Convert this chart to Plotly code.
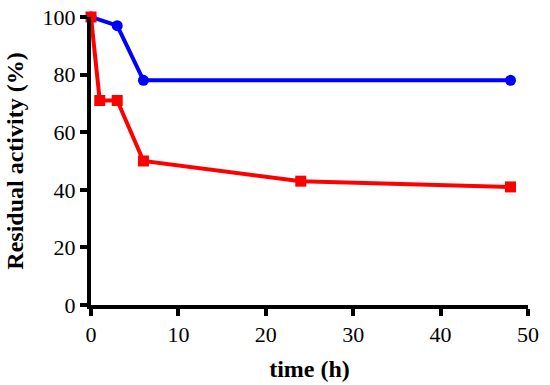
import plotly.graph_objects as go

blue_time = [0, 3, 6, 48]
blue_activity = [100, 97, 78, 78]
red_time = [0, 1, 3, 6, 24, 48]
red_activity = [100, 71, 71, 50, 43, 41]
x_ticks = [0, 10, 20, 30, 40, 50]
y_ticks = [0, 20, 40, 60, 80, 100]

fig = go.Figure()
fig.add_trace(go.Scatter(x=blue_time, y=blue_activity, mode="lines+markers",
                         line=dict(color="#0000ff", width=4),
                         marker=dict(symbol="circle", size=11, color="#0000ff"),
                         cliponaxis=False, showlegend=False))
fig.add_trace(go.Scatter(x=red_time, y=red_activity, mode="lines+markers",
                         line=dict(color="#ff0000", width=4),
                         marker=dict(symbol="square", size=11, color="#ff0000"),
                         cliponaxis=False, showlegend=False))

font = dict(family="Liberation Serif, DejaVu Serif, serif", size=22, color="black")
fig.update_layout(
    width=550, height=385,
    margin=dict(l=91, r=22, t=17, b=80),
    plot_bgcolor="white", paper_bgcolor="white",
    font=font,
    xaxis=dict(range=[0, 50], tickvals=x_ticks, showgrid=False, zeroline=False,
               showline=True, linecolor="black", linewidth=4,
               ticks="outside", ticklen=7, tickwidth=4, tickcolor="black",
               ticklabeloverflow="allow", automargin=False,
               title=dict(text="<b>time (h)</b>", font=dict(size=24), standoff=15)),
    yaxis=dict(range=[0, 100], tickvals=y_ticks, showgrid=False, zeroline=False,
               showline=True, linecolor="black", linewidth=4,
               ticks="outside", ticklen=7, tickwidth=4, tickcolor="black",
               ticklabeloverflow="allow", automargin=False,
               title=dict(text="<b>Residual activity (%)</b>", font=dict(size=24), standoff=13)),
)
fig.write_html("out.html", config={"displayModeBar": False},
               post_script="document.body.style.margin='0';")
